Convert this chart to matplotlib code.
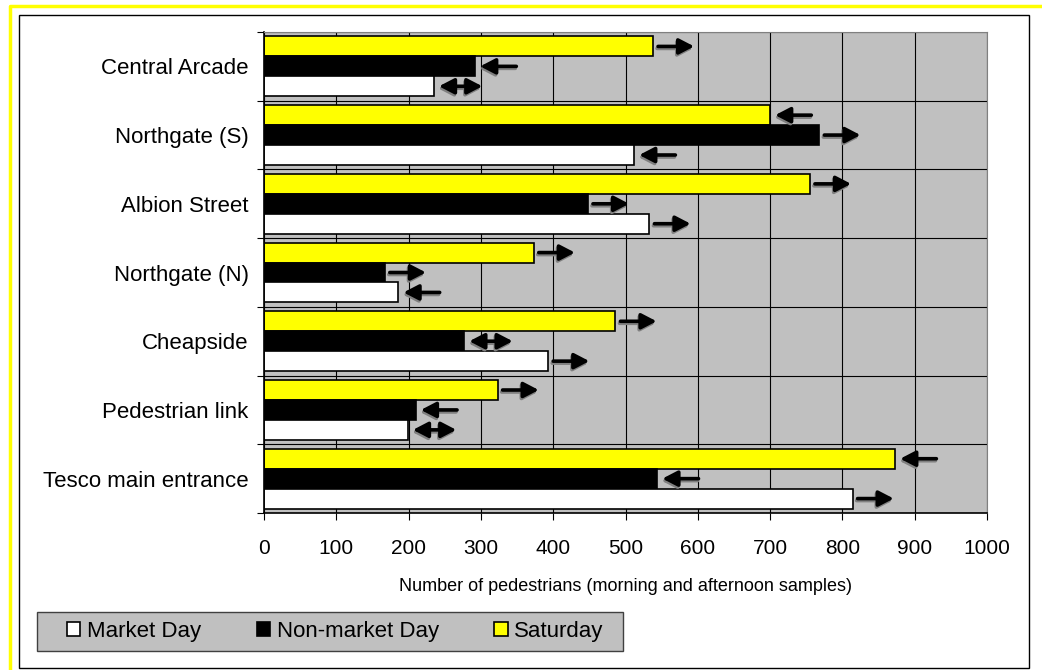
import numpy as np
import matplotlib.pyplot as plt
import matplotlib.transforms as mtransforms
from matplotlib.patches import Rectangle
from matplotlib.lines import Line2D

plt.rcParams['font.family'] = ['Liberation Sans', 'DejaVu Sans']

# data, top category first
categories = ['Central Arcade', 'Northgate (S)', 'Albion Street', 'Northgate (N)',
              'Cheapside', 'Pedestrian link', 'Tesco main entrance']
market_day = [235, 512, 533, 186, 393, 199, 814]
non_market_day = [292, 768, 448, 167, 277, 210, 544]
saturday = [538, 700, 755, 373, 486, 323, 873]

# trend arrows next to each bar: r = up, l = down, b = no clear change
saturday_dir = ['r', 'l', 'r', 'r', 'r', 'r', 'l']
non_market_dir = ['l', 'r', 'r', 'r', 'b', 'l', 'l']
market_dir = ['b', 'l', 'r', 'l', 'r', 'b', 'r']

W, H = 1042, 670
fig = plt.figure(figsize=(W / 100, H / 100), dpi=100)
ax = fig.add_axes([264 / W, 1 - 513 / H, (987 - 264) / W, (513 - 32) / H])

y = np.arange(len(categories))
bh = 0.29
h_sat = ax.barh(y - bh, saturday, height=bh, color='#FFFF00', edgecolor='black', lw=1.2, zorder=2)
h_non = ax.barh(y, non_market_day, height=bh, color='black', edgecolor='black', lw=1.2, zorder=2)
h_mkt = ax.barh(y + bh, market_day, height=bh, color='white', edgecolor='black', lw=1.2, zorder=2)


def draw_arrow(x0, yc, d):
	length = 60 if d == 'b' else 50
	s = x0 + 7
	e = s + length
	style = {'r': '-|>', 'l': '<|-', 'b': '<|-|>'}[d] + ',head_length=0.5,head_width=0.26'
	for color, dx, dy, z in [('#808080', -1, -2, 3), ('black', 0, 0, 4)]:
		tr = ax.transData + mtransforms.ScaledTranslation(dx / 100, dy / 100, fig.dpi_scale_trans)
		ax.annotate('', xy=(e, yc), xytext=(s, yc), xycoords=tr, textcoords=tr,
			arrowprops=dict(arrowstyle=style, color=color, lw=2.6, shrinkA=0, shrinkB=0,
				mutation_scale=18), zorder=z)


for i in range(len(categories)):
	draw_arrow(saturday[i], y[i] - bh, saturday_dir[i])
	draw_arrow(non_market_day[i], y[i], non_market_dir[i])
	draw_arrow(market_day[i], y[i] + bh, market_dir[i])

ax.set_facecolor('#C0C0C0')
ax.set_xlim(0, 1000)
ax.set_ylim(len(categories) - 0.5, -0.5)
ax.set_xticks(np.arange(0, 1001, 100))
ax.set_yticks(np.arange(-0.5, len(categories), 1))
ax.set_yticks(y, minor=True)
ax.set_yticklabels(categories, minor=True, fontsize=16)
ax.tick_params(axis='y', which='major', length=5, direction='out', labelleft=False, color='black')
ax.tick_params(axis='y', which='minor', length=0, pad=11)
ax.tick_params(axis='x', length=5, direction='out', pad=14, labelsize=15)
ax.grid(True, which='major', color='black', lw=0.8)
ax.set_axisbelow(True)

for side in ['top', 'right']:
	ax.spines[side].set_color('#808080')
for side in ['left', 'bottom']:
	ax.spines[side].set_color('black')
	ax.spines[side].set_linewidth(1.2)

ax.set_xlabel('Number of pedestrians (morning and afternoon samples)', fontsize=13)
ax.xaxis.set_label_coords(0.5, -0.135)

# legend box
fig.add_artist(Rectangle((37 / W, 1 - 651 / H), (623 - 37) / W, 39 / H, transform=fig.transFigure,
	facecolor='#C0C0C0', edgecolor='#404040', lw=1, zorder=0))
fig.legend(handles=[h_mkt, h_non, h_sat], labels=['Market Day', 'Non-market Day', 'Saturday'],
	ncol=3, loc='center left', bbox_to_anchor=(67 / W, 1 - 631 / H), frameon=False, fontsize=16,
	handlelength=0.6, handleheight=0.6, handletextpad=0.3, columnspacing=2.5,
	borderpad=0, borderaxespad=0)

# chart frame
fig.add_artist(Rectangle((19 / W, 1 - 668 / H), (1029 - 19) / W, (668 - 15) / H, transform=fig.transFigure,
	fill=False, edgecolor='black', lw=1))
fig.add_artist(Line2D([10 / W, 10 / W, 1], [0, 1 - 6 / H, 1 - 6 / H], transform=fig.transFigure,
	color='#FFFF00', lw=2.5))

plt.savefig('out.png', dpi=100)
